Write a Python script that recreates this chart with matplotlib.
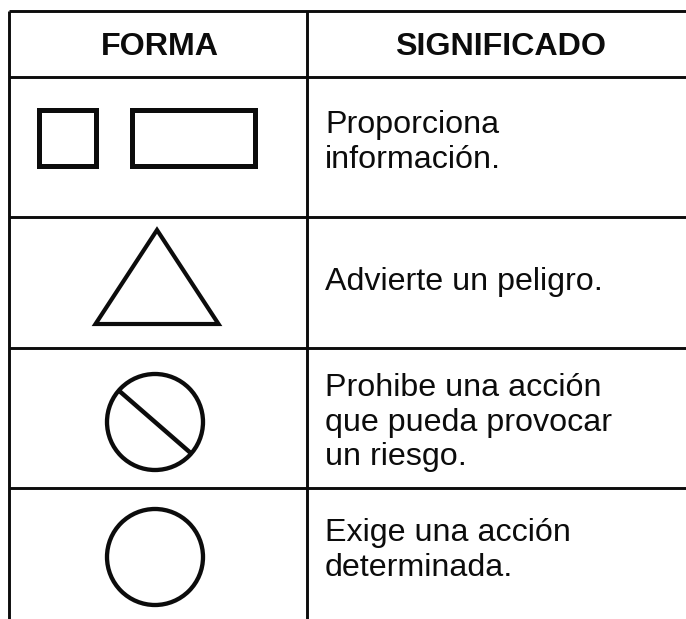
import matplotlib.pyplot as plt
import matplotlib.patches as mpatches
import numpy as np

# table content
headers = ['FORMA', 'SIGNIFICADO']
shapes = ['rectangulos', 'triangulo', 'prohibicion', 'circulo']
meanings = [
    ['Proporciona', 'información.'],
    ['Advierte un peligro.'],
    ['Prohibe una acción', 'que pueda provocar', 'un riesgo.'],
    ['Exige una acción', 'determinada.'],
]

# layout in pixels (axes data units = image pixels)
W, H = 686, 619
row_edges = [11, 77, 217, 348, 488]
col_edges = [9, 307]
header_x = [160, 501]
header_base = 55
text_x = 325
first_base = [133, 290, 396, 541]
line_step = 34.5
shape_cx = 156

plt.rcParams['font.family'] = ['Liberation Sans', 'DejaVu Sans']
ink = '#0c0c0c'

fig = plt.figure(figsize=(W / 100, H / 100), dpi=100)
ax = fig.add_axes([0, 0, 1, 1])
ax.set_xlim(0, W)
ax.set_ylim(H, 0)
ax.axis('off')

# grid lines
for y in row_edges:
    ax.plot([col_edges[0], W], [y, y], color=ink, lw=2.1, solid_capstyle='butt')
for x in col_edges:
    ax.plot([x, x], [row_edges[0], H], color=ink, lw=2.1, solid_capstyle='butt')

# header
for label, x in zip(headers, header_x):
    ax.text(x, header_base, label, ha='center', va='baseline',
            fontsize=23.2, fontweight='bold', color=ink)

# meanings
for lines, y0 in zip(meanings, first_base):
    for i, line in enumerate(lines):
        ax.text(text_x, y0 + i * line_step, line, ha='left', va='baseline',
                fontsize=23.2, color=ink)

# shapes
for kind, top in zip(shapes, row_edges[1:]):
    if kind == 'rectangulos':
        ax.add_patch(mpatches.Rectangle((38.5, top + 32.5), 57, 56, fill=False,
                                        ec=ink, lw=3.6, joinstyle='miter'))
        ax.add_patch(mpatches.Rectangle((131.5, top + 32.5), 123, 56, fill=False,
                                        ec=ink, lw=3.6, joinstyle='miter'))
    elif kind == 'triangulo':
        pts = np.array([[157, top + 13], [95.5, top + 107], [218.5, top + 107]])
        ax.add_patch(mpatches.Polygon(pts, closed=True, fill=False, ec=ink,
                                      lw=3.0, joinstyle='miter'))
    elif kind == 'prohibicion':
        cy = top + 74
        r = 48
        ax.add_patch(mpatches.Circle((shape_cx - 1, cy), r, fill=False, ec=ink, lw=3.1))
        a = np.deg2rad(41)
        ax.plot([shape_cx - 1 - r * np.cos(a), shape_cx - 1 + r * np.cos(a)],
                [cy - r * np.sin(a), cy + r * np.sin(a)], color=ink, lw=3.2,
                solid_capstyle='butt')
    elif kind == 'circulo':
        ax.add_patch(mpatches.Circle((shape_cx - 1, top + 69), 48, fill=False, ec=ink, lw=3.1))

fig.savefig('out.png', dpi=100, facecolor='white')
